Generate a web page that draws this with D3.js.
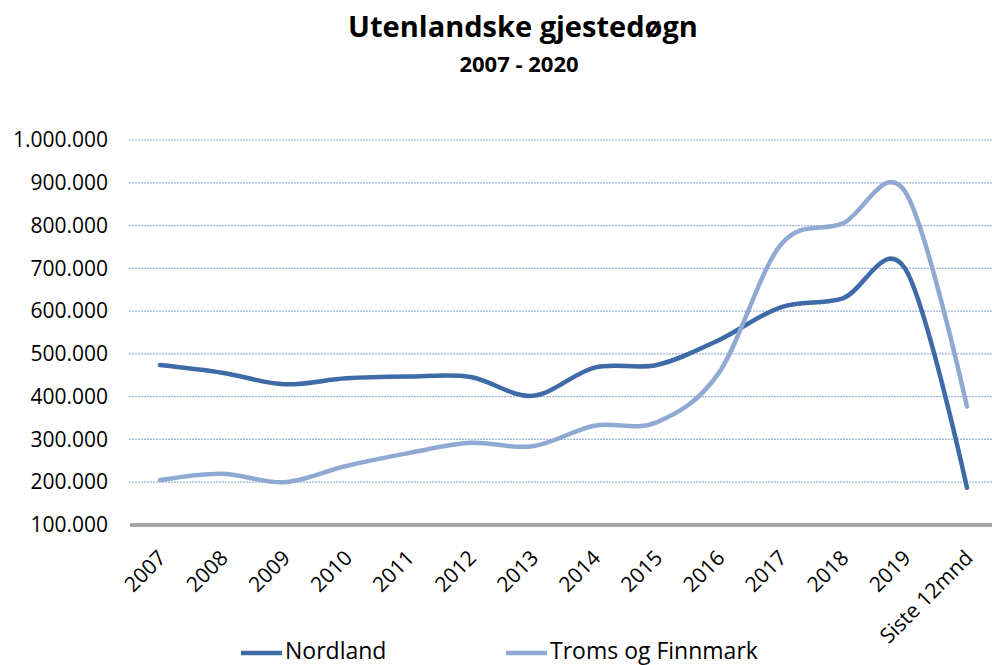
<html>
<head>
    <meta charset="utf-8">
    <script src="https://d3js.org/d3.v7.min.js"></script>
    <style>
        body { margin: 0; background: #fff; }
        text { font-family: "Open Sans", sans-serif; fill: #000; }
    </style>
</head>
<body>
    <svg id="chart" width="992" height="665"></svg>
    <script>
        // data
        var categories = ["2007", "2008", "2009", "2010", "2011", "2012", "2013",
            "2014", "2015", "2016", "2017", "2018", "2019", "Siste 12mnd"];
        var nordland = [474000, 456000, 429000, 443000, 447000, 446000, 402000,
            468000, 474000, 532000, 609000, 630000, 700000, 187000];
        var tromsFinnmark = [205000, 220000, 200000, 238000, 268000, 292000, 284000,
            332000, 340000, 455000, 755000, 805000, 880000, 377000];
        var yTicks = [100000, 200000, 300000, 400000, 500000, 600000, 700000, 800000, 900000, 1000000];
        var seriesNames = ["Nordland", "Troms og Finnmark"];
        var colors = ["#3e6aa8", "#8fa9d2"];

        var svg = d3.select("#chart");

        var x = d3.scalePoint()
            .domain(categories)
            .range([129, 998])
            .padding(0.5);

        var y = d3.scaleLinear()
            .domain([100000, 1000000])
            .range([525, 140]);

        // norwegian number format 1.000.000
        var fmt = function (d) { return d3.format(",")(d).replace(/,/g, "."); };

        // title
        svg.append("text")
            .attr("x", 523).attr("y", 37)
            .attr("text-anchor", "middle")
            .style("font-weight", "bold")
            .style("font-size", "29px")
            .text("Utenlandske gjestedøgn");
        svg.append("text")
            .attr("x", 519).attr("y", 72)
            .attr("text-anchor", "middle")
            .style("font-weight", "bold")
            .style("font-size", "22px")
            .text("2007 - 2020");

        // gridlines
        svg.append("g")
            .selectAll("line")
            .data(yTicks.filter(d => d > 100000))
            .enter()
            .append("line")
            .attr("x1", 129).attr("x2", 992)
            .attr("y1", d => y(d)).attr("y2", d => y(d))
            .attr("stroke", "#9db3db")
            .attr("stroke-width", 1.2)
            .attr("stroke-dasharray", "2,1");

        // y axis labels
        var yAxis = d3.axisLeft(y)
            .tickValues(yTicks)
            .tickFormat(fmt)
            .tickSize(0)
            .tickPadding(0);
        var gy = svg.append("g")
            .attr("transform", "translate(108,0)")
            .call(yAxis);
        gy.select(".domain").remove();
        gy.selectAll("text")
            .style("font-family", "'Open Sans', sans-serif")
            .style("font-size", "21px")
            .attr("fill", "#000");

        // x axis line (at 100.000)
        svg.append("line")
            .attr("x1", 130).attr("x2", 992)
            .attr("y1", y(100000)).attr("y2", y(100000))
            .attr("stroke", "#a6a6a6")
            .attr("stroke-width", 4);

        // x labels
        svg.append("g")
            .selectAll("text")
            .data(categories)
            .enter()
            .append("text")
            .attr("transform", d => "translate(" + (x(d) + 2) + ",554) rotate(-45)")
            .attr("text-anchor", "end")
            .attr("dy", "0.35em")
            .style("font-size", "21px")
            .text(d => d);

        // lines
        var line = d3.line()
            .x((d, i) => x(categories[i]))
            .y(d => y(d))
            .curve(d3.curveCatmullRom.alpha(0));

        [nordland, tromsFinnmark].forEach(function (s, i) {
            svg.append("path")
                .datum(s)
                .attr("d", line)
                .attr("fill", "none")
                .attr("stroke", colors[i])
                .attr("stroke-width", 4.5)
                .attr("stroke-linecap", "round")
                .attr("stroke-linejoin", "round");
        });

        // legend
        var legendX = [241, 506];
        seriesNames.forEach(function (name, i) {
            svg.append("line")
                .attr("x1", legendX[i]).attr("x2", legendX[i] + 41)
                .attr("y1", 653).attr("y2", 653)
                .attr("stroke", colors[i])
                .attr("stroke-width", 4.5);
            svg.append("text")
                .attr("x", legendX[i] + 44).attr("y", 659)
                .style("font-size", "23px")
                .text(name);
        });
    </script>
</body>
</html>
